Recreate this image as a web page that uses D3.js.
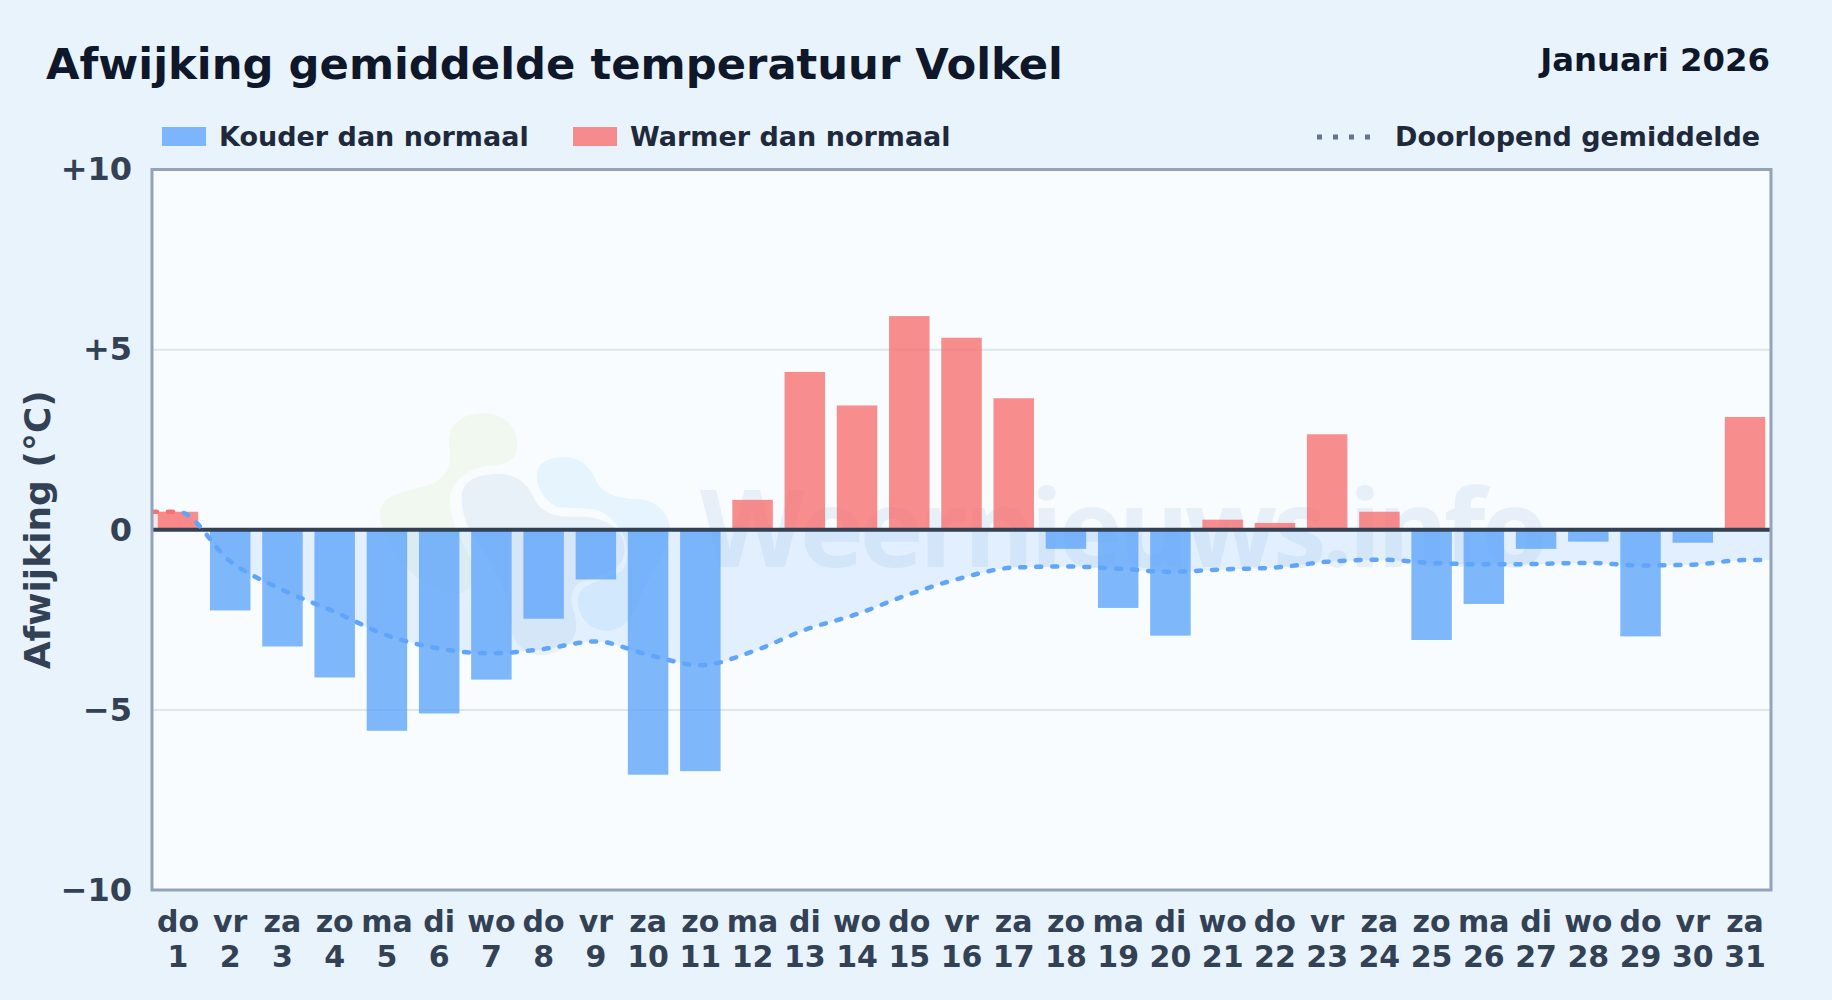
<!DOCTYPE html>
<html>
<head>
<meta charset="utf-8">
<script src="https://d3js.org/d3.v7.min.js"></script>
<style>
body { margin: 0; background: #e8f3fc; overflow: hidden; }
text { font-family: "DejaVu Sans", sans-serif; font-weight: bold; }
</style>
</head>
<body>
<div id="result"></div>
<script>
var days = d3.range(1, 32);
var weekdays = ["do","vr","za","zo","ma","di","wo","do","vr","za","zo","ma","di","wo","do","vr","za","zo","ma","di","wo","do","vr","za","zo","ma","di","wo","do","vr","za"];
var deviation = [0.5,-2.24,-3.24,-4.1,-5.58,-5.1,-4.16,-2.47,-1.38,-6.8,-6.7,0.83,4.38,3.45,5.93,5.33,3.65,-0.53,-2.17,-2.94,0.28,0.19,2.65,0.5,-3.06,-2.06,-0.53,-0.33,-2.96,-0.36,3.13];
var runningMean = [0.5,-0.88,-1.67,-2.28,-2.93,-3.3,-3.43,-3.31,-3.1,-3.47,-3.76,-3.38,-2.78,-2.34,-1.79,-1.34,-1.05,-1.02,-1.08,-1.17,-1.1,-1.05,-0.89,-0.83,-0.92,-0.96,-0.95,-0.92,-0.99,-0.97,-0.84];
var yTicks = [-10,-5,0,5,10];

var width = 1832, height = 1000;
var margin = {top: 169.5, right: 61, bottom: 110, left: 152};

var blue = "#60a5fa", red = "#f87171";

var svg = d3.select("#result").append("svg")
    .attr("width", width)
    .attr("height", height)
    .style("display", "block");

var defs = svg.append("defs");

svg.append("rect").attr("width", width).attr("height", height).attr("fill", "#e8f3fc");

var x = d3.scaleBand()
    .domain(days)
    .range([margin.left, width - margin.right])
    .paddingInner(0.225)
    .paddingOuter(0.11);

// same span as the band scale, for the line which runs on to both edges
var xLine = d3.scaleLinear()
    .domain([0.5, 31.5])
    .range([margin.left, width - margin.right]);

var y = d3.scaleLinear()
    .domain([-10, 10])
    .range([height - margin.bottom, margin.top]);

var plotW = width - margin.right - margin.left,
    plotH = height - margin.bottom - margin.top;

svg.append("rect")
    .attr("x", margin.left).attr("y", margin.top)
    .attr("width", plotW).attr("height", plotH)
    .attr("fill", "#f8fcff");

// watermark
var logo = svg.append("g").attr("transform", "translate(360,390) scale(0.3333)");
logo.append("path")
    .attr("d", "M60,370 C60,320 120,305 190,290 C250,275 275,240 270,180 C255,110 300,70 370,70 C440,70 475,120 472,170 C470,215 430,225 380,228 C320,235 270,280 270,330 C270,400 300,440 330,500 C350,560 340,600 300,610 C200,620 60,480 60,370 Z")
    .attr("fill", "rgba(190,220,130,0.12)");
logo.append("path")
    .attr("d", "M305,320 C305,275 350,250 420,252 C480,255 505,290 520,320 C540,365 580,382 640,380 C700,378 750,390 780,430 C810,490 790,540 720,555 C650,570 620,600 640,660 C660,720 650,770 560,795 C480,800 450,740 450,690 C450,640 420,560 380,500 C340,440 305,400 305,320 Z")
    .attr("fill", "rgba(60,110,170,0.08)");
logo.append("path")
    .attr("d", "M530,255 C530,215 575,200 620,202 C670,205 695,240 710,275 C735,320 790,325 840,328 C900,335 930,380 930,420 C930,470 880,540 850,600 C820,680 800,720 740,722 C680,720 650,670 655,620 C660,580 740,570 790,540 C820,470 790,420 740,375 C700,345 640,360 590,350 C550,330 530,290 530,255 Z")
    .attr("fill", "rgba(56,170,248,0.09)");

svg.append("text")
    .attr("x", 700).attr("y", 567)
    .attr("textLength", 848)
    .style("font-family", "'Open Sans', sans-serif")
    .style("font-weight", 700)
    .style("font-size", "108px")
    .attr("fill", "rgba(70,125,185,0.09)")
    .text("Weernieuws.info");

// gridlines
svg.append("g").selectAll("line")
    .data([-5, 5])
    .enter().append("line")
    .attr("x1", margin.left).attr("x2", width - margin.right)
    .attr("y1", function(d) { return y(d); })
    .attr("y2", function(d) { return y(d); })
    .attr("stroke", "#dde7ec")
    .attr("stroke-width", 2);

// running mean shading + line
var meanPts = [[0.5, runningMean[0]]]
    .concat(runningMean.map(function(v, i) { return [days[i], v]; }))
    .concat([[31.5, runningMean[30]]]);

var area = d3.area()
    .x(function(d) { return xLine(d[0]); })
    .y0(y(0))
    .y1(function(d) { return y(d[1]); })
    .curve(d3.curveMonotoneX);

var line = d3.line()
    .x(function(d) { return xLine(d[0]); })
    .y(function(d) { return y(d[1]); })
    .curve(d3.curveMonotoneX);

defs.append("clipPath").attr("id", "above").append("rect")
    .attr("x", margin.left).attr("y", margin.top).attr("width", plotW).attr("height", y(0) - margin.top);
defs.append("clipPath").attr("id", "below").append("rect")
    .attr("x", margin.left).attr("y", y(0)).attr("width", plotW).attr("height", plotH / 2);
defs.append("clipPath").attr("id", "firstDay").append("rect")
    .attr("x", margin.left).attr("y", margin.top).attr("width", xLine(1) - margin.left).attr("height", plotH);
defs.append("clipPath").attr("id", "restDays").append("rect")
    .attr("x", xLine(1)).attr("y", margin.top).attr("width", width - margin.right - xLine(1)).attr("height", plotH);

svg.append("path").datum(meanPts).attr("d", area)
    .attr("clip-path", "url(#above)").attr("fill", "rgba(248,113,113,0.15)");
svg.append("path").datum(meanPts).attr("d", area)
    .attr("clip-path", "url(#below)").attr("fill", "rgba(96,165,250,0.15)");

// bars
svg.append("g").selectAll("rect")
    .data(days)
    .enter().append("rect")
    .attr("x", function(d) { return x(d); })
    .attr("width", x.bandwidth())
    .attr("y", function(d, i) { return y(Math.max(0, deviation[i])); })
    .attr("height", function(d, i) { return Math.abs(y(deviation[i]) - y(0)); })
    .attr("fill", function(d, i) { return deviation[i] < 0 ? blue : red; })
    .attr("fill-opacity", 0.8);

// zero line
svg.append("line")
    .attr("x1", margin.left).attr("x2", width - margin.right)
    .attr("y1", y(0)).attr("y2", y(0))
    .attr("stroke", "#334155").attr("stroke-width", 4);

svg.append("path").datum(meanPts).attr("d", line)
    .attr("clip-path", "url(#firstDay)")
    .attr("fill", "none").attr("stroke", red).attr("stroke-width", 4.5)
    .attr("stroke-linecap", "round").attr("stroke-dasharray", "5 11");
svg.append("path").datum(meanPts).attr("d", line)
    .attr("clip-path", "url(#restDays)")
    .attr("fill", "none").attr("stroke", blue).attr("stroke-width", 4.5)
    .attr("stroke-linecap", "round").attr("stroke-dasharray", "5 11");

// frame
svg.append("rect")
    .attr("x", margin.left).attr("y", margin.top)
    .attr("width", plotW).attr("height", plotH)
    .attr("fill", "none").attr("stroke", "#94a3b8").attr("stroke-width", 3);

// axes
var yAxis = d3.axisLeft(y)
    .tickValues(yTicks)
    .tickSize(0)
    .tickPadding(20)
    .tickFormat(function(d) { return d > 0 ? "+" + d : d < 0 ? "\u2212" + (-d) : "0"; });

var gy = svg.append("g")
    .attr("transform", "translate(" + margin.left + ",0)")
    .call(yAxis);
gy.select(".domain").remove();
gy.selectAll("text")
    .attr("fill", "#334155")
    .style("font-size", "32px")
    .style("font-family", "'DejaVu Sans', sans-serif")
    .style("font-weight", "bold");

var xAxis = d3.axisBottom(x).tickSize(0).tickFormat("");
var gx = svg.append("g")
    .attr("transform", "translate(0," + (height - margin.bottom) + ")")
    .call(xAxis);
gx.select(".domain").remove();
gx.selectAll("text").remove();
gx.selectAll(".tick").each(function(d, i) {
    var t = d3.select(this).append("text")
        .attr("text-anchor", "middle")
        .attr("fill", "#334155")
        .style("font-size", "30px");
    t.append("tspan").attr("x", 0).attr("y", 42).text(weekdays[i]);
    t.append("tspan").attr("x", 0).attr("y", 77).text(d);
});

svg.append("text")
    .attr("transform", "translate(37," + y(0) + ") rotate(-90)")
    .attr("text-anchor", "middle")
    .attr("dominant-baseline", "central")
    .attr("fill", "#334155")
    .style("font-size", "36px")
    .text("Afwijking (\u00b0C)");

// title
svg.append("text")
    .attr("x", 46).attr("y", 79)
    .attr("fill", "#0f172a")
    .style("font-size", "43.3px")
    .text("Afwijking gemiddelde temperatuur Volkel");
svg.append("text")
    .attr("x", 1770).attr("y", 71)
    .attr("text-anchor", "end")
    .attr("fill", "#0f172a")
    .style("font-size", "32.3px")
    .text("Januari 2026");

// legend
var legendItems = [
    {label: "Kouder dan normaal", color: blue, x: 162},
    {label: "Warmer dan normaal", color: red, x: 573}
];
var lg = svg.append("g").selectAll("g").data(legendItems).enter().append("g");
lg.append("rect")
    .attr("x", function(d) { return d.x; }).attr("y", 127)
    .attr("width", 44).attr("height", 19)
    .attr("fill", function(d) { return d.color; })
    .attr("fill-opacity", 0.8);
lg.append("text")
    .attr("x", function(d) { return d.x + 57; }).attr("y", 146)
    .attr("fill", "#1e293b")
    .style("font-size", "27px")
    .text(function(d) { return d.label; });

svg.append("line")
    .attr("x1", 1317).attr("x2", 1375)
    .attr("y1", 137).attr("y2", 137)
    .attr("stroke", "#64748b").attr("stroke-width", 5)
    .attr("stroke-dasharray", "5 11");
svg.append("text")
    .attr("x", 1395).attr("y", 146)
    .attr("fill", "#1e293b")
    .style("font-size", "27px")
    .text("Doorlopend gemiddelde");
</script>
</body>
</html>
